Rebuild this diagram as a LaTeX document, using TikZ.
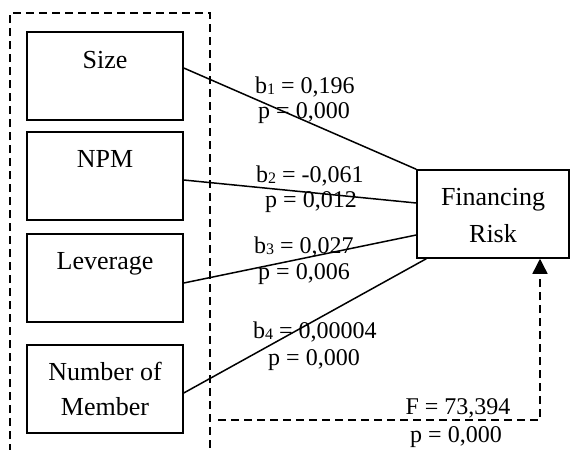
\documentclass[tikz,border=0pt]{standalone}
\usepackage{fontspec}
\setmainfont{Liberation Serif}
\usetikzlibrary{arrows.meta}
\newcommand{\mysub}[1]{\raisebox{-1pt}{\fontsize{16}{16}\selectfont #1}}
\begin{document}
\begin{tikzpicture}[x=1pt,y=-1pt,
  boxst/.style={draw,line width=1.5pt,rectangle,minimum width=156pt,minimum height=88pt,inner sep=0pt},
  btext/.style={anchor=base,font=\fontsize{26}{35}\selectfont,inner sep=0pt,align=center},
  ltext/.style={anchor=base,font=\fontsize{24}{26}\selectfont,inner sep=0pt},
  conn/.style={line width=1.5pt},
  dashst/.style={line width=1.4pt,dash pattern=on 8pt off 5pt}]
\useasboundingbox (0,0) rectangle (571,450);
% outer dashed frame
\coordinate (fa) at (10,452);
\coordinate (fb) at (10,13);
\coordinate (fc) at (210,13);
\coordinate (fd) at (210,452);
\draw[dashst] (fa) -- (fb) -- (fc) -- (fd);
% boxes
\node[boxst] (size) at (105,76) {};
\node[btext] (sizeT) at (105,68) {Size};
\node[boxst] (npm) at (105,176) {};
\node[btext] (npmT) at (105,167) {NPM};
\node[boxst] (lev) at (105,278) {};
\node[btext] (levT) at (105,269) {Leverage};
\node[boxst] (num) at (105,389) {};
\node[btext] (numT1) at (105,380) {Number of};
\node[btext] (numT2) at (105,415) {Member};
\node[boxst,minimum width=152pt] (fr) at (493,214) {};
\node[btext] (frT1) at (493,205) {Financing};
\node[btext] (frT2) at (493,242) {Risk};
% connectors
\draw[conn] ([yshift=8pt]size.east) -- (fr.north west);
\draw[conn] ([yshift=-4pt]npm.east) -- ([yshift=11pt]fr.west);
\draw[conn] ([yshift=-5pt]lev.east) -- ([yshift=-21pt]fr.west);
\draw[conn] ([yshift=-4pt]num.east) -- ([xshift=10pt]fr.south west);
% labels
\node[ltext] (b1) at (305,93) {b\mysub{1} = 0,196};
\node[ltext] (p1) at (304,118) {p = 0,000};
\node[ltext] (b2) at (310,182) {b\mysub{2} = -0,061};
\node[ltext] (p2) at (311,207) {p = 0,012};
\node[ltext] (b3) at (304,253) {b\mysub{3} = 0,027};
\node[ltext] (p3) at (304,279) {p = 0,006};
\node[ltext] (b4) at (315,338) {b\mysub{4} = 0,00004};
\node[ltext] (p4) at (314,365) {p = 0,000};
% F test
\coordinate (fs) at (218,420);
\coordinate (fk) at (540,420);
\draw[dashst,-{Triangle[length=15pt,width=15pt]}] (fs) -- (fk) -- (fk |- fr.south);
\node[ltext] (fF) at (458,414) {F = 73,394};
\node[ltext] (fp) at (456,442) {p = 0,000};
\end{tikzpicture}
\end{document}
